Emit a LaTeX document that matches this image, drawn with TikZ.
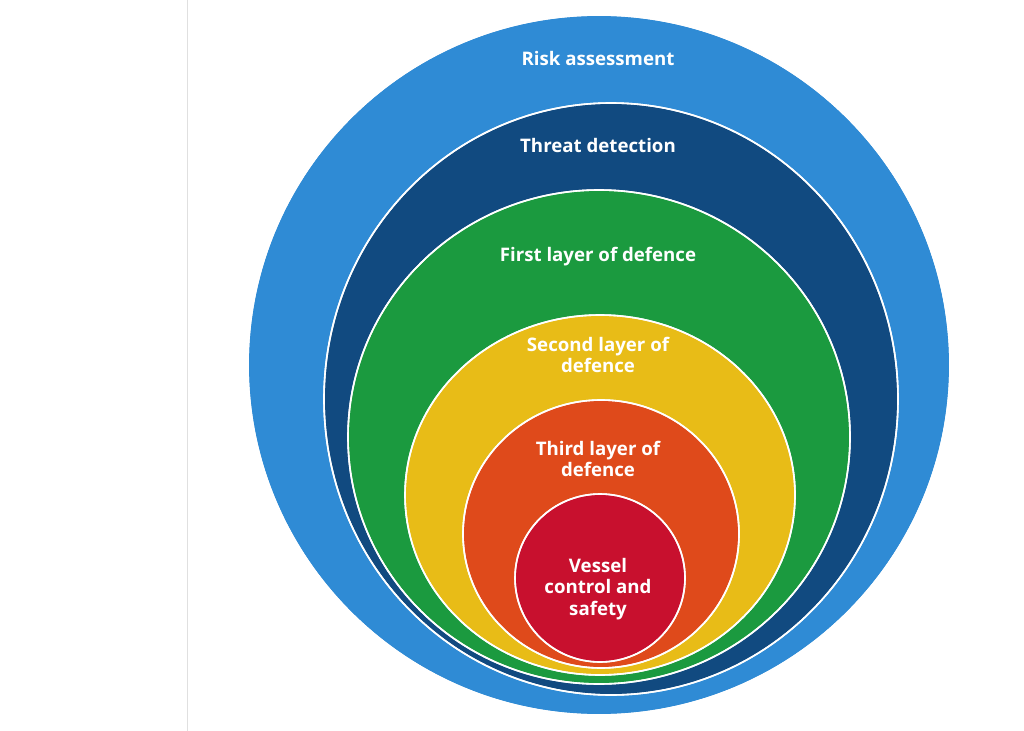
\documentclass[tikz,border=0pt]{standalone}
\usepackage{fontspec}
\setmainfont{Open Sans}
\begin{document}
\begin{tikzpicture}[x=0.75pt,y=-0.75pt]
\tikzset{
    ring/.style={draw=white, line width=1.2pt},
    lbl/.style={text=white, font=\fontsize{14}{16}\selectfont\bfseries, align=center}}
\definecolor{riskblue}{HTML}{2F8BD5}
\definecolor{threatblue}{HTML}{114A80}
\definecolor{firstgreen}{HTML}{1B9A3F}
\definecolor{secondyellow}{HTML}{E8BC17}
\definecolor{thirdorange}{HTML}{DF4A1B}
\definecolor{vesselred}{HTML}{C8102E}

\useasboundingbox[fill=white] (0,0) rectangle (1024,731);
\draw[black!12] (187,0) -- (187,731);

\fill[ring, fill=riskblue] (599,365) ellipse (351 and 350);
\fill[ring, fill=threatblue] (611,399) ellipse (287 and 296);
\fill[ring, fill=firstgreen] (599,437) ellipse (251 and 247);
\fill[ring, fill=secondyellow] (600,495) ellipse (195 and 180);
\fill[ring, fill=thirdorange] (601,534) ellipse (138 and 134);
\fill[ring, fill=vesselred] (600,578) ellipse (85 and 84);
\draw[ring] (599,365) ellipse (351 and 350);
\draw[ring] (611,399) ellipse (287 and 296);
\draw[ring] (599,437) ellipse (251 and 247);
\draw[ring] (600,495) ellipse (195 and 180);
\draw[ring] (601,534) ellipse (138 and 134);
\draw[ring] (600,578) ellipse (85 and 84);

\node[lbl] (risk) at (598,59) {Risk assessment};
\node[lbl] (threat) at (598,146) {Threat detection};
\node[lbl] (first) at (598,257) {First layer of defence};
\node[lbl] (second) at (598,355) {Second layer of\\defence};
\node[lbl] (third) at (598,459) {Third layer of\\defence};
\node[lbl] (vessel) at (598,589) {Vessel\\control and\\safety};
\end{tikzpicture}
\end{document}
